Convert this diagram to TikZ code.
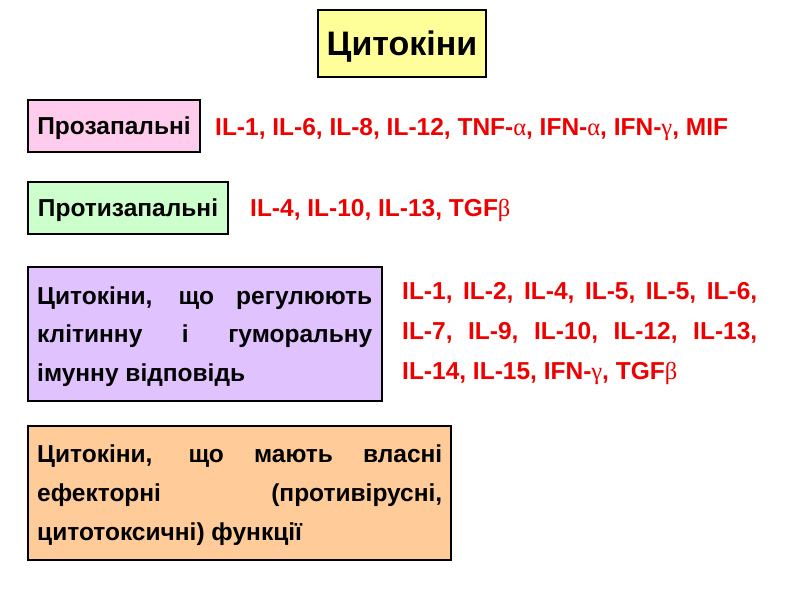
\documentclass[tikz,border=0pt]{standalone}
\usepackage{fontspec}
\setmainfont{Liberation Sans}
\newfontfamily\grkfont{Liberation Serif}
\newcommand\gal{{\grkfont\mdseries α}}
\newcommand\ggm{{\grkfont\mdseries γ}}
\newcommand\gbt{{\grkfont\mdseries β}}
\newcommand\jline[2]{\makebox[#1][s]{#2}}
\definecolor{yel}{HTML}{FFFF99}
\definecolor{pinkf}{HTML}{FFCCEE}
\definecolor{greenf}{HTML}{CCFFCC}
\definecolor{lavf}{HTML}{E0C2FF}
\definecolor{orf}{HTML}{FFCC99}
\definecolor{redt}{HTML}{EE0000}
\begin{document}
\begin{tikzpicture}[x=1pt,y=-1pt,
  box/.style={draw=black, line width=1.8pt, inner sep=0pt},
  lbl/.style={font=\bfseries\fontsize{24.5}{28}\selectfont, inner sep=0pt},
  redtxt/.style={font=\bfseries\fontsize{24.5}{28}\selectfont, text=redt, inner sep=0pt}]
\useasboundingbox (0,0) rectangle (800,600);
\node[box, fill=yel, minimum width=168pt, minimum height=67pt, text height=24.3pt, text depth=0pt, font=\bfseries\fontsize{34}{38}\selectfont] (title) at (402,43.5) {Цитокіни};
\node[box, fill=pinkf, minimum width=172pt, minimum height=52pt, lbl, text height=17.5pt, text depth=0pt] (pro) at (114,126) {Прозапальні};
\node[redtxt, anchor=base west] (prolist) at (215,135) {IL-1, IL-6, IL-8, IL-12, TNF-\gal, IFN-\gal, IFN-\ggm, MIF};
\node[box, fill=greenf, minimum width=200pt, minimum height=52pt, lbl, text height=17.5pt, text depth=0pt] (anti) at (128,208) {Протизапальні};
\node[redtxt, anchor=base west] (antilist) at (250,216) {IL-4, IL-10, IL-13, TGF\gbt};
\node[box, fill=lavf, minimum width=354pt, minimum height=134pt] (reg) at (205,334) {};
\node[lbl, anchor=base west] (reg1) at (37,304) {\jline{335pt}{Цитокіни, що регулюють}};
\node[lbl, anchor=base west] (reg2) at (37,342) {\jline{335pt}{клітинну і гуморальну}};
\node[lbl, anchor=base west] (reg3) at (37,381) {імунну відповідь};
\node[redtxt, anchor=base west] (rl1) at (402,299) {\jline{355pt}{IL-1, IL-2, IL-4, IL-5, IL-5, IL-6,}};
\node[redtxt, anchor=base west] (rl2) at (402,339) {\jline{355pt}{IL-7, IL-9, IL-10, IL-12, IL-13,}};
\node[redtxt, anchor=base west] (rl3) at (402,379) {IL-14, IL-15, IFN-\ggm, TGF\gbt};
\node[box, fill=orf, minimum width=423pt, minimum height=134pt] (eff) at (239.5,493) {};
\node[lbl, anchor=base west] (eff1) at (37,462) {\jline{405pt}{Цитокіни, що мають власні}};
\node[lbl, anchor=base west] (eff2) at (37,501) {\jline{405pt}{ефекторні (противірусні,}};
\node[lbl, anchor=base west] (eff3) at (37,540) {цитотоксичні) функції};
\end{tikzpicture}
\end{document}
